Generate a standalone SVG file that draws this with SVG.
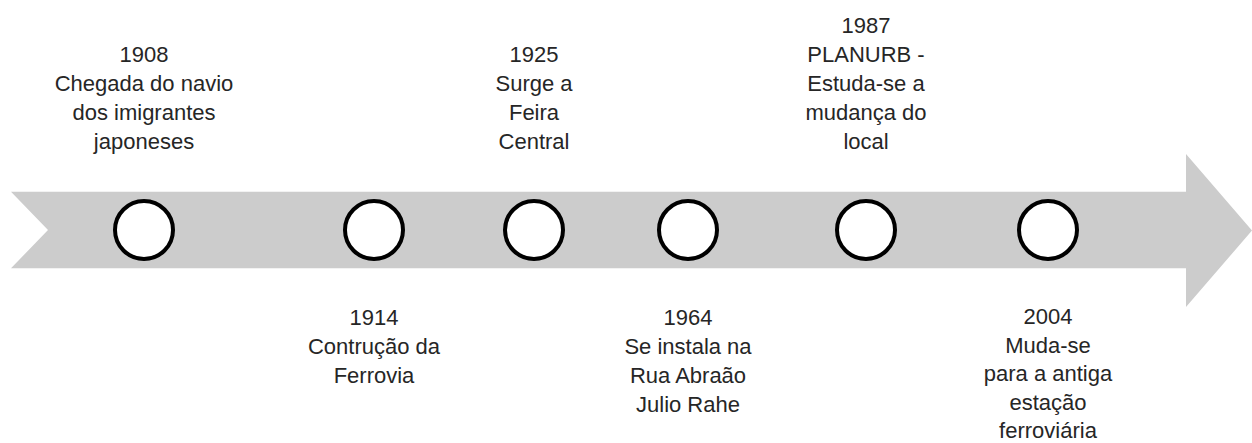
<svg xmlns="http://www.w3.org/2000/svg" width="1252" height="443" viewBox="0 0 1252 443">
<style>
.lbl{font-family:"Liberation Sans",Arial,sans-serif;font-size:22px;fill:#262626;text-anchor:middle}
.dot{fill:#ffffff;stroke:#000000;stroke-width:4}
.band{fill:#cccccc}
</style>
<rect width="1252" height="443" fill="#ffffff"/>
<g id="connectors">
<polygon class="band" points="11,191.7 1186,191.7 1186,154 1252,230.5 1186,307 1186,268.3 11,268.3 48,230"/>
</g>
<g id="n1908">
<circle class="dot" cx="144" cy="230" r="29"/>
<text class="lbl" x="144" y="62">1908</text>
<text class="lbl" x="144" y="91">Chegada do navio</text>
<text class="lbl" x="144" y="120">dos imigrantes</text>
<text class="lbl" x="144" y="149">japoneses</text>
</g>
<g id="n1914">
<circle class="dot" cx="374" cy="230" r="29"/>
<text class="lbl" x="374" y="325">1914</text>
<text class="lbl" x="374" y="354">Contrução da</text>
<text class="lbl" x="374" y="383">Ferrovia</text>
</g>
<g id="n1925">
<circle class="dot" cx="534" cy="230" r="29"/>
<text class="lbl" x="534" y="62">1925</text>
<text class="lbl" x="534" y="91">Surge a</text>
<text class="lbl" x="534" y="120">Feira</text>
<text class="lbl" x="534" y="149">Central</text>
</g>
<g id="n1964">
<circle class="dot" cx="688" cy="230" r="29"/>
<text class="lbl" x="688" y="325">1964</text>
<text class="lbl" x="688" y="354">Se instala na</text>
<text class="lbl" x="688" y="383">Rua Abraão</text>
<text class="lbl" x="688" y="412">Julio Rahe</text>
</g>
<g id="n1987">
<circle class="dot" cx="866" cy="230" r="29"/>
<text class="lbl" x="866" y="33">1987</text>
<text class="lbl" x="866" y="62">PLANURB -</text>
<text class="lbl" x="866" y="91">Estuda-se a</text>
<text class="lbl" x="866" y="120">mudança do</text>
<text class="lbl" x="866" y="149">local</text>
</g>
<g id="n2004">
<circle class="dot" cx="1048" cy="230" r="29"/>
<text class="lbl" x="1048" y="324">2004</text>
<text class="lbl" x="1048" y="352.5">Muda-se</text>
<text class="lbl" x="1048" y="381">para a antiga</text>
<text class="lbl" x="1048" y="409.5">estação</text>
<text class="lbl" x="1048" y="438">ferroviária</text>
</g>
</svg>
